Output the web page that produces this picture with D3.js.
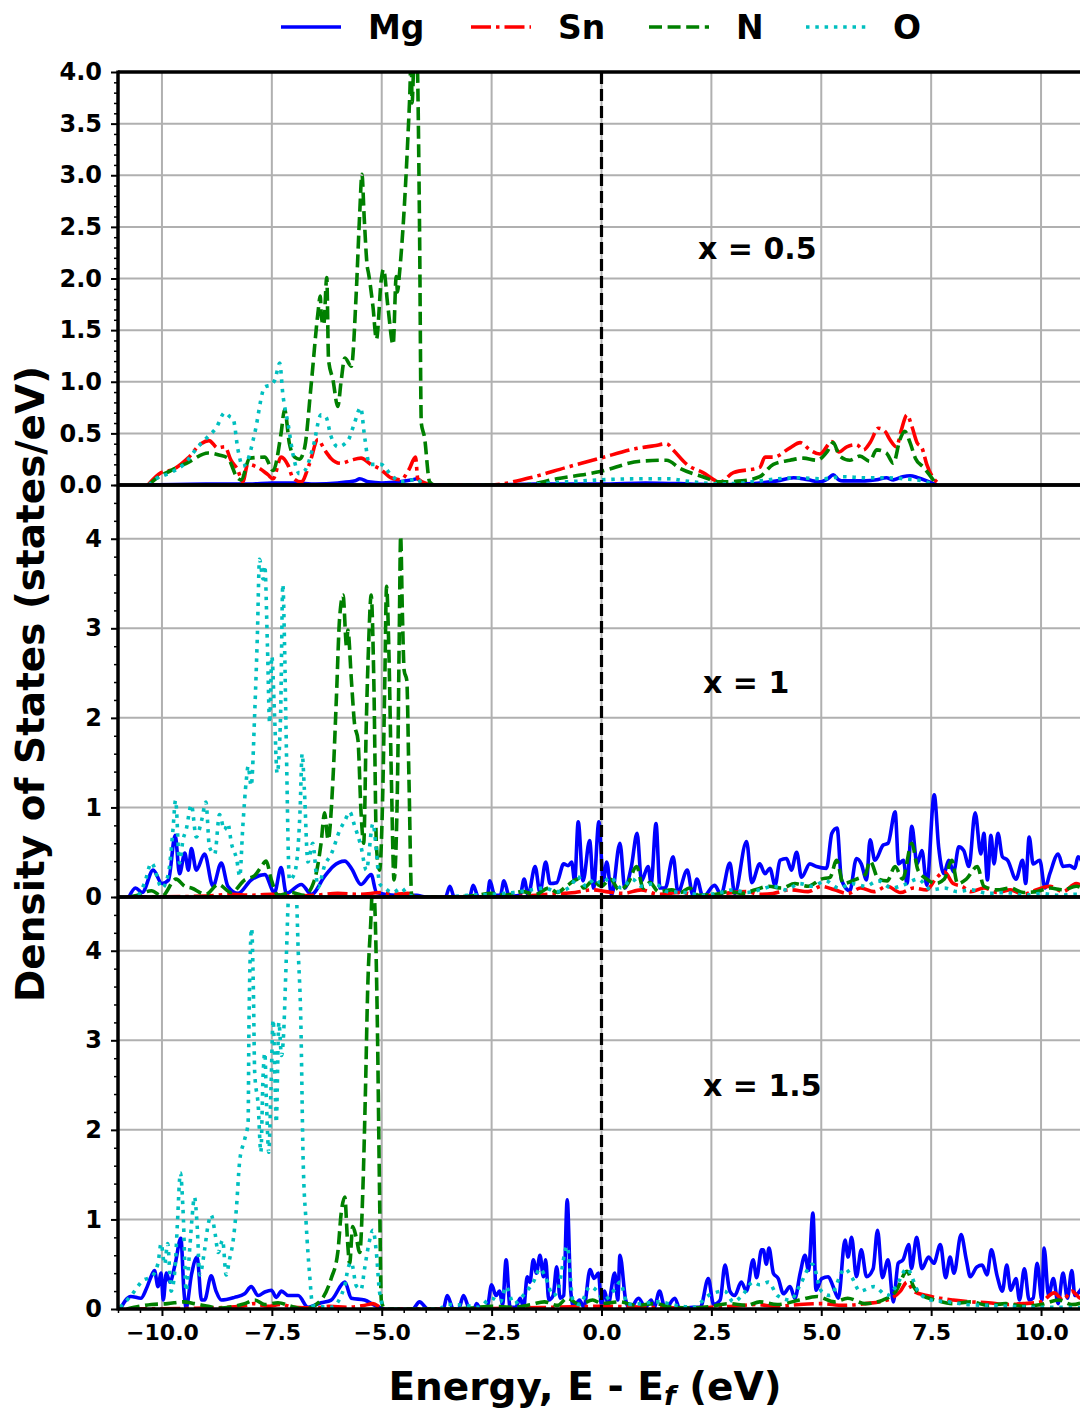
<!DOCTYPE html>
<html><head><meta charset="utf-8">
<script src="https://cdn.jsdelivr.net/npm/d3@7"></script>
<style>
body{margin:0;background:#fff}
svg{display:block}
text{font-family:"DejaVu Sans",sans-serif;font-weight:bold;fill:#000}
</style>
</head><body>
<svg id="chart" width="1080" height="1410"></svg>
<script>
// ---------------- data ----------------
const species = ["Mg", "Sn", "N", "O"];
const panelLabels = ["x = 0.5", "x = 1", "x = 1.5"];
const xTicks = [-10, -7.5, -5, -2.5, 0, 2.5, 5, 7.5, 10];
const yTicksTop = [0, 0.5, 1.0, 1.5, 2.0, 2.5, 3.0, 3.5, 4.0];
const yTicksLower = [0, 1, 2, 3, 4];

// panel x = 0.5  ([energy eV, DOS])
const mg05 = [[-10.3,0],[-9,0.01],[-8,0.01],[-7.5,0.02],[-7,0.02],[-6.5,0.01],[-6,0.02],[-5.6,0.04],[-5.5,0.06],[-5.3,0.03],[-5,0.02],[-4.6,0.03],[-4.3,0.05],[-4.2,0.06],[-4.05,0.01],[-3.9,0],[-2.5,0],[-1.5,0.01],[0,0.01],[1,0.02],[2,0.01],[2.7,0],[3.2,0.01],[3.6,0.02],[4.0,0.04],[4.37,0.07],[4.7,0.05],[4.97,0.03],[5.15,0.06],[5.27,0.1],[5.4,0.05],[5.5,0.04],[6.0,0.04],[6.26,0.05],[6.48,0.07],[6.64,0.05],[6.85,0.08],[7.02,0.09],[7.2,0.07],[7.4,0.04],[7.63,0]];
const sn05 = [[-10.32,0],[-10.02,0.12],[-9.75,0.15],[-9.41,0.26],[-9.11,0.4],[-8.93,0.43],[-8.73,0.36],[-8.57,0.37],[-8.43,0.24],[-8.28,0.15],[-8.16,0.03],[-8.05,0.2],[-7.82,0.17],[-7.59,0.1],[-7.47,0.06],[-7.29,0.27],[-7.13,0.19],[-7.02,0.07],[-6.83,0.03],[-6.64,0.21],[-6.45,0.44],[-6.3,0.34],[-6.16,0.26],[-5.93,0.21],[-5.7,0.24],[-5.47,0.26],[-5.25,0.2],[-5.02,0.15],[-4.79,0.07],[-4.57,0.05],[-4.38,0.15],[-4.23,0.27],[-4.18,0.06],[-3.95,0.01],[-3.8,0],[-2.54,0],[-1.63,0.07],[-0.8,0.17],[-0.03,0.26],[0.88,0.36],[1.2,0.38],[1.48,0.4],[1.63,0.34],[1.94,0.2],[2.31,0.12],[2.7,0.03],[3.0,0.12],[3.6,0.17],[3.72,0.27],[3.91,0.27],[4.29,0.36],[4.52,0.41],[4.74,0.34],[4.97,0.3],[5.24,0.42],[5.4,0.32],[5.58,0.37],[5.8,0.39],[5.96,0.34],[6.11,0.41],[6.3,0.55],[6.45,0.52],[6.56,0.44],[6.71,0.37],[6.82,0.53],[6.95,0.68],[7.06,0.57],[7.18,0.41],[7.29,0.36],[7.4,0.2],[7.7,0]];
const n05 = [[-10.3,0],[-10.17,0.05],[-9.8,0.14],[-9.4,0.22],[-8.95,0.31],[-8.7,0.29],[-8.5,0.26],[-8.3,0.08],[-8.2,0.05],[-8.0,0.26],[-7.66,0.27],[-7.47,0.14],[-7.29,0.5],[-7.21,0.73],[-7.1,0.4],[-6.98,0.27],[-6.87,0.25],[-6.75,0.37],[-6.61,0.95],[-6.45,1.67],[-6.4,1.83],[-6.37,1.62],[-6.32,1.55],[-6.25,2.01],[-6.21,1.21],[-6.11,1.02],[-6.0,0.76],[-5.92,1.02],[-5.84,1.23],[-5.69,1.15],[-5.58,1.86],[-5.5,2.64],[-5.45,3.01],[-5.4,2.6],[-5.33,2.12],[-5.3,2.05],[-5.2,1.73],[-5.12,1.41],[-5.01,1.99],[-4.96,2.09],[-4.86,1.73],[-4.74,1.36],[-4.67,2.02],[-4.64,1.87],[-4.6,2.03],[-4.48,2.74],[-4.4,3.41],[-4.36,3.8],[-4.33,4.2],[-4.31,3.7],[-4.25,4.3],[-4.2,4.2],[-4.14,2.5],[-4.1,0.6],[-4.03,0.47],[-3.91,0.03],[-3.8,0],[-1.8,0],[-1.02,0.06],[-0.03,0.13],[0.88,0.23],[1.48,0.24],[1.79,0.16],[2.3,0.08],[2.7,0.03],[3.2,0.04],[3.6,0.08],[3.91,0.2],[4.29,0.24],[4.59,0.26],[4.9,0.24],[5.13,0.32],[5.27,0.41],[5.42,0.28],[5.65,0.24],[5.88,0.28],[6.1,0.23],[6.26,0.34],[6.48,0.31],[6.64,0.21],[6.79,0.44],[6.9,0.52],[7.02,0.41],[7.14,0.26],[7.33,0.17],[7.63,0]];
const o05 = [[-10.3,0],[-10.17,0.05],[-9.8,0.12],[-9.5,0.2],[-9.18,0.37],[-8.95,0.47],[-8.77,0.55],[-8.57,0.7],[-8.45,0.66],[-8.38,0.64],[-8.27,0.34],[-8.16,0.18],[-8.05,0.24],[-7.89,0.5],[-7.66,0.95],[-7.51,0.97],[-7.43,1.02],[-7.32,1.18],[-7.25,0.88],[-7.13,0.59],[-7.02,0.3],[-6.87,0.11],[-6.75,0.14],[-6.56,0.37],[-6.38,0.68],[-6.27,0.66],[-6.16,0.48],[-6.0,0.37],[-5.77,0.43],[-5.62,0.6],[-5.48,0.75],[-5.39,0.47],[-5.28,0.2],[-5.02,0.2],[-4.79,0.1],[-4.57,0.03],[-4.4,0.04],[-4.18,0.06],[-4.07,0],[-2.5,0],[-1.5,0.01],[-0.8,0.03],[0,0.05],[0.8,0.06],[1.55,0.06],[1.9,0.04],[2.3,0.02],[2.7,0.01],[3.2,0.02],[3.6,0.04],[4.0,0.06],[4.5,0.07],[5.0,0.06],[5.5,0.08],[6.0,0.07],[6.5,0.07],[6.9,0.06],[7.3,0.04],[7.6,0]];

// panel x = 1
const mg10 = [[-10.75,0],[-10.6,0.1],[-10.45,0.05],[-10.2,0.3],[-10.0,0.15],[-9.85,0.19],[-9.7,0.69],[-9.6,0.26],[-9.48,0.49],[-9.4,0.3],[-9.33,0.54],[-9.22,0.3],[-9.03,0.48],[-8.84,0.12],[-8.65,0.38],[-8.5,0.12],[-8.27,0.04],[-7.97,0.19],[-7.66,0.25],[-7.44,0.05],[-7.29,0.33],[-7.17,0.04],[-6.83,0.14],[-6.6,0.03],[-6.3,0.23],[-6.11,0.34],[-5.84,0.4],[-5.69,0.32],[-5.47,0.14],[-5.24,0.25],[-5.12,0.05],[-4.7,0.02],[-4.2,0.02],[-4.0,0],[-3.55,0],[-3.45,0.12],[-3.35,0],[-3.0,0],[-2.92,0.13],[-2.8,0],[-2.6,0],[-2.54,0.18],[-2.43,0.02],[-2.3,0.02],[-2.22,0.18],[-2.1,0.01],[-1.85,0.02],[-1.76,0.2],[-1.67,0.02],[-1.51,0.34],[-1.4,0.05],[-1.27,0.39],[-1.17,0.15],[-1.02,0.16],[-0.86,0.37],[-0.76,0.35],[-0.68,0.39],[-0.61,0.18],[-0.53,0.84],[-0.42,0.18],[-0.27,0.63],[-0.18,0.1],[-0.06,0.84],[0.04,0.18],[0.12,0.39],[0.23,0.02],[0.42,0.6],[0.53,0.1],[0.68,0.34],[0.81,0.71],[0.91,0.18],[1.06,0.34],[1.13,0.15],[1.24,0.82],[1.33,0.1],[1.45,0.1],[1.63,0.45],[1.74,0.05],[1.95,0.3],[2.08,0.02],[2.17,0.2],[2.31,0],[2.57,0.13],[2.72,0.03],[2.92,0.38],[3.03,0.04],[3.3,0.62],[3.42,0.16],[3.6,0.37],[3.72,0.26],[3.83,0.32],[3.95,0.13],[4.06,0.41],[4.21,0.43],[4.32,0.3],[4.44,0.5],[4.55,0.22],[4.74,0.37],[4.89,0.34],[5.12,0.32],[5.24,0.71],[5.36,0.77],[5.46,0.19],[5.65,0.07],[5.8,0.43],[5.91,0.37],[6.03,0.19],[6.11,0.64],[6.22,0.41],[6.41,0.58],[6.52,0.6],[6.68,0.95],[6.76,0.37],[6.87,0.41],[6.95,0.15],[7.06,0.79],[7.18,0.37],[7.29,0.52],[7.4,0.13],[7.57,1.14],[7.67,0.56],[7.79,0.26],[7.9,0.41],[8.01,0.28],[8.13,0.56],[8.24,0.52],[8.36,0.34],[8.5,0.94],[8.63,0.48],[8.7,0.71],[8.78,0.19],[8.86,0.69],[8.93,0.37],[9.02,0.71],[9.12,0.45],[9.24,0.41],[9.43,0.2],[9.58,0.41],[9.65,0.15],[9.73,0.67],[9.82,0.37],[9.97,0.41],[10.09,0.1],[10.2,0.26],[10.39,0.48],[10.5,0.34],[10.65,0.35],[10.77,0.32],[10.84,0.45],[11,0.3]];
const sn10 = [[-10.8,0],[-9,0.01],[-8.4,0.03],[-8,0.02],[-7.5,0.03],[-7,0.01],[-6.5,0.02],[-6,0.04],[-5.5,0.03],[-5,0.05],[-4.7,0.03],[-4.4,0.04],[-4.2,0],[-2.5,0],[-1.8,0.01],[-1.2,0.03],[-0.6,0.05],[-0.2,0.08],[0.1,0.06],[0.5,0.04],[0.9,0.08],[1.3,0.03],[1.8,0.05],[2.3,0.01],[2.8,0.04],[3.3,0.06],[3.6,0.03],[3.9,0.04],[4.3,0.08],[4.7,0.06],[5.0,0.12],[5.3,0.08],[5.6,0.04],[5.9,0.1],[6.2,0.06],[6.5,0.12],[6.8,0.05],[7.1,0.1],[7.4,0.08],[7.6,0.2],[7.8,0.28],[8.0,0.15],[8.2,0.12],[8.4,0.06],[8.7,0.1],[9.0,0.05],[9.3,0.08],[9.6,0.03],[9.9,0.08],[10.2,0.12],[10.5,0.06],[10.8,0.15],[11,0.1]];
const n10 = [[-10.75,0],[-10.55,0.02],[-10.24,0.07],[-10.0,0.01],[-9.68,0.2],[-9.48,0.12],[-9.33,0.1],[-9.0,0.03],[-8.72,0.14],[-8.42,0.05],[-8.12,0.19],[-7.89,0.24],[-7.74,0.34],[-7.63,0.4],[-7.51,0.19],[-7.36,0.02],[-7.06,0.05],[-6.76,0.02],[-6.53,0.19],[-6.38,0.6],[-6.3,0.94],[-6.22,0.64],[-6.11,1.31],[-6.03,2.24],[-5.96,3.1],[-5.88,3.37],[-5.8,2.8],[-5.77,2.98],[-5.69,2.42],[-5.62,1.94],[-5.54,1.75],[-5.47,0.94],[-5.41,0.6],[-5.35,1.96],[-5.3,2.8],[-5.24,3.37],[-5.18,2.42],[-5.12,0.56],[-5.05,0.3],[-4.97,1.31],[-4.93,2.42],[-4.89,3.47],[-4.84,2.8],[-4.78,1.31],[-4.72,0.19],[-4.64,1.31],[-4.6,2.98],[-4.57,4.03],[-4.53,3.17],[-4.49,2.53],[-4.43,2.42],[-4.38,1.31],[-4.32,0.02],[-4.2,0],[-3.6,0],[-3.0,0.01],[-2.5,0.04],[-2.2,0.02],[-1.8,0.06],[-1.5,0.03],[-1.2,0.1],[-1.0,0.05],[-0.8,0.12],[-0.53,0.2],[-0.4,0.1],[-0.2,0.18],[0,0.12],[0.2,0.2],[0.4,0.08],[0.6,0.15],[0.8,0.34],[0.95,0.1],[1.1,0.16],[1.3,0.06],[1.6,0.08],[1.8,0.05],[2.0,0.1],[2.2,0.02],[2.6,0.03],[2.9,0.06],[3.2,0.04],[3.5,0.08],[3.8,0.12],[4.1,0.1],[4.4,0.15],[4.7,0.12],[5.0,0.2],[5.2,0.22],[5.35,0.41],[5.5,0.15],[5.8,0.2],[6.0,0.25],[6.11,0.4],[6.3,0.2],[6.5,0.18],[6.68,0.34],[6.85,0.2],[7.06,0.6],[7.2,0.3],[7.4,0.2],[7.6,0.15],[7.8,0.2],[7.97,0.41],[8.1,0.15],[8.3,0.2],[8.55,0.34],[8.7,0.12],[9.0,0.08],[9.3,0.1],[9.6,0.05],[9.9,0.06],[10.2,0.1],[10.5,0.08],[10.8,0.12],[11,0.08]];
const o10 = [[-10.75,0],[-10.55,0.02],[-10.4,0.15],[-10.24,0.38],[-10.0,0.1],[-9.85,0.27],[-9.75,0.75],[-9.69,1.08],[-9.6,0.38],[-9.52,0.64],[-9.45,0.75],[-9.33,1.03],[-9.22,0.67],[-9.1,0.85],[-9.0,1.06],[-8.92,0.56],[-8.8,0.48],[-8.69,0.92],[-8.58,0.75],[-8.5,0.82],[-8.42,0.6],[-8.3,0.42],[-8.23,0.23],[-8.16,0.79],[-8.08,1.31],[-8.04,1.46],[-7.97,1.24],[-7.89,2.05],[-7.83,2.91],[-7.78,3.77],[-7.7,3.55],[-7.66,3.7],[-7.6,2.8],[-7.55,1.94],[-7.5,2.69],[-7.44,2.05],[-7.38,1.38],[-7.3,2.05],[-7.25,3.49],[-7.21,2.8],[-7.17,1.68],[-7.1,0.19],[-6.98,0.27],[-6.86,0.94],[-6.81,1.6],[-6.76,1.2],[-6.68,0.39],[-6.57,0.6],[-6.45,0.11],[-6.3,0.35],[-6.14,0.49],[-5.95,0.75],[-5.84,0.85],[-5.73,0.95],[-5.62,0.8],[-5.47,0.56],[-5.35,0.3],[-5.2,0.82],[-5.12,0.5],[-5.05,0.15],[-4.93,0.1],[-4.75,0.05],[-4.55,0.1],[-4.4,0.02],[-4.0,0],[-3.6,0],[-3.0,0.02],[-2.5,0.03],[-2.0,0.05],[-1.6,0.08],[-1.3,0.1],[-1.0,0.06],[-0.7,0.12],[-0.55,0.23],[-0.35,0.12],[-0.15,0.2],[0,0.15],[0.2,0.22],[0.45,0.1],[0.7,0.2],[0.9,0.12],[1.2,0.15],[1.5,0.06],[1.9,0.05],[2.3,0.02],[2.7,0.05],[3.0,0.08],[3.3,0.05],[3.6,0.08],[3.9,0.12],[4.2,0.08],[4.5,0.15],[4.8,0.12],[5.1,0.18],[5.4,0.1],[5.7,0.15],[6.0,0.12],[6.3,0.18],[6.6,0.1],[6.9,0.14],[7.2,0.2],[7.5,0.08],[7.8,0.1],[8.1,0.06],[8.4,0.08],[8.8,0.04],[9.2,0.05],[9.6,0.02],[10,0.04],[10.4,0.02],[10.8,0.03],[11,0.02]];

// panel x = 1.5
const mg15 = [[-10.95,0],[-10.71,0.14],[-10.48,0.12],[-10.36,0.22],[-10.24,0.37],[-10.17,0.43],[-10.09,0.25],[-10.02,0.4],[-9.97,0.1],[-9.9,0.4],[-9.82,0.3],[-9.7,0.5],[-9.57,0.79],[-9.5,0.2],[-9.45,0.01],[-9.33,0.38],[-9.2,0.58],[-9.1,0.1],[-9.03,0.1],[-8.88,0.37],[-8.77,0.2],[-8.65,0.1],[-8.35,0.13],[-8.12,0.17],[-7.97,0.25],[-7.81,0.15],[-7.66,0.19],[-7.51,0.21],[-7.4,0.13],[-7.28,0.2],[-7.13,0.15],[-6.9,0.15],[-6.68,0.02],[-6.38,0.07],[-6.15,0.1],[-5.84,0.3],[-5.69,0.12],[-5.39,0.1],[-5.16,0.04],[-4.93,0],[-4.3,0],[-4.14,0.08],[-3.95,0],[-3.6,0],[-3.51,0.15],[-3.37,0],[-3.25,0],[-3.14,0.15],[-3.0,0],[-2.9,0],[-2.84,0.06],[-2.75,0],[-2.6,0.02],[-2.5,0.27],[-2.4,0.15],[-2.32,0.2],[-2.25,0.05],[-2.17,0.55],[-2.08,0.02],[-1.95,0.02],[-1.85,0.12],[-1.77,0.02],[-1.69,0.36],[-1.63,0.3],[-1.55,0.55],[-1.48,0.4],[-1.4,0.6],[-1.32,0.36],[-1.27,0.55],[-1.2,0.1],[-1.1,0.15],[-1.02,0.47],[-0.94,0.12],[-0.86,0.15],[-0.78,1.22],[-0.7,0.2],[-0.63,0.02],[-0.5,0.1],[-0.4,0.02],[-0.26,0.44],[-0.17,0.34],[-0.07,0.4],[0.0,0.04],[0.07,0.2],[0.15,0.05],[0.3,0.4],[0.37,0.1],[0.42,0.6],[0.55,0.1],[0.65,0],[0.84,0.12],[1.0,0.02],[1.13,0.1],[1.2,0.02],[1.32,0.2],[1.45,0],[1.67,0.12],[1.78,0],[2.08,0.02],[2.25,0.02],[2.43,0.34],[2.55,0.05],[2.7,0.1],[2.81,0.49],[2.92,0.2],[3.03,0.15],[3.18,0.3],[3.3,0.2],[3.45,0.55],[3.53,0.35],[3.64,0.66],[3.68,0.66],[3.75,0.5],[3.81,0.68],[3.91,0.4],[4.02,0.34],[4.14,0.17],[4.29,0.25],[4.4,0.12],[4.52,0.4],[4.63,0.6],[4.71,0.43],[4.81,1.07],[4.88,0.21],[5.01,0.34],[5.16,0.36],[5.27,0.25],[5.39,0.12],[5.54,0.77],[5.61,0.58],[5.69,0.8],[5.8,0.36],[5.91,0.66],[6.03,0.36],[6.18,0.45],[6.28,0.88],[6.39,0.35],[6.52,0.55],[6.64,0.08],[6.75,0.51],[6.86,0.55],[6.99,0.72],[7.05,0.45],[7.17,0.8],[7.29,0.45],[7.44,0.58],[7.56,0.51],[7.71,0.72],[7.83,0.35],[7.93,0.58],[8.02,0.4],[8.18,0.83],[8.3,0.55],[8.39,0.36],[8.54,0.47],[8.66,0.49],[8.77,0.38],[8.87,0.66],[9.0,0.37],[9.12,0.2],[9.22,0.49],[9.31,0.21],[9.43,0.34],[9.51,0.1],[9.62,0.45],[9.73,0.1],[9.82,0.12],[9.91,0.51],[10.02,0.1],[10.07,0.68],[10.17,0.15],[10.28,0.34],[10.39,0.06],[10.5,0.4],[10.6,0.12],[10.7,0.43],[10.77,0.15],[10.88,0.2],[11,0.3]];
const sn15 = [[-10.8,0],[-9,0.01],[-8.2,0.03],[-7.9,0.06],[-7.6,0.03],[-7.3,0.05],[-7,0.02],[-6.5,0.01],[-6.2,0.03],[-5.8,0.02],[-5.4,0.04],[-5.2,0.06],[-5.0,0.01],[-4.9,0],[-3.6,0],[-2,0.01],[-1,0.02],[0,0.03],[1,0.02],[2,0.01],[2.5,0.02],[3,0.03],[3.5,0.05],[4,0.03],[4.5,0.05],[5,0.06],[5.5,0.04],[6,0.06],[6.5,0.1],[6.8,0.2],[6.95,0.3],[7.1,0.2],[7.4,0.15],[7.7,0.12],[8.0,0.1],[8.4,0.08],[8.8,0.07],[9.2,0.05],[9.6,0.06],[10.0,0.08],[10.3,0.18],[10.5,0.1],[10.7,0.2],[10.9,0.12],[11,0.15]];
const n15 = [[-10.8,0],[-10.24,0.05],[-9.87,0.06],[-9.5,0.08],[-9.26,0.06],[-8.95,0.03],[-8.7,0.01],[-8.12,0.06],[-7.89,0.1],[-7.66,0.05],[-7.36,0.07],[-7.06,0.03],[-6.76,0],[-6.38,0.1],[-6.15,0.34],[-6.0,0.63],[-5.92,1.08],[-5.84,1.25],[-5.78,0.77],[-5.73,0.51],[-5.66,0.92],[-5.58,0.8],[-5.5,0.63],[-5.43,1.32],[-5.37,2.44],[-5.32,3.56],[-5.25,4.31],[-5.2,4.8],[-5.15,4.4],[-5.1,3.2],[-5.05,1.32],[-5.01,0.1],[-4.93,0],[-3.6,0],[-3.0,0.01],[-2.5,0.03],[-2.0,0.02],[-1.6,0.05],[-1.3,0.08],[-1.0,0.04],[-0.78,0.12],[-0.5,0.05],[-0.2,0.1],[0,0.06],[0.4,0.08],[0.8,0.04],[1.2,0.06],[1.6,0.02],[2.0,0.01],[2.5,0.03],[2.9,0.06],[3.3,0.04],[3.6,0.08],[4.0,0.05],[4.5,0.1],[4.9,0.14],[5.3,0.08],[5.6,0.12],[6.0,0.06],[6.4,0.1],[6.7,0.2],[6.95,0.42],[7.1,0.25],[7.3,0.15],[7.6,0.1],[8.0,0.06],[8.4,0.08],[8.8,0.04],[9.2,0.06],[9.6,0.03],[10.0,0.05],[10.4,0.1],[10.7,0.05],[11,0.08]];
const o15 = [[-10.95,0.02],[-10.7,0.15],[-10.43,0.32],[-10.24,0.36],[-10.09,0.51],[-10.02,0.73],[-9.94,0.5],[-9.87,0.73],[-9.79,0.2],[-9.7,0.47],[-9.65,0.94],[-9.58,1.52],[-9.52,1.1],[-9.45,0.2],[-9.37,0.66],[-9.32,0.99],[-9.26,1.25],[-9.2,0.94],[-9.14,0.38],[-9.03,0.66],[-8.95,0.94],[-8.88,1.05],[-8.79,0.84],[-8.72,0.63],[-8.62,0.77],[-8.54,0.38],[-8.46,0.56],[-8.39,0.73],[-8.31,1.1],[-8.23,1.66],[-8.12,1.89],[-8.04,2.08],[-8.02,3.2],[-7.96,4.25],[-7.92,3.57],[-7.89,2.64],[-7.81,2.27],[-7.75,1.75],[-7.7,2.6],[-7.66,2.86],[-7.62,2.27],[-7.57,1.75],[-7.52,2.45],[-7.47,3.23],[-7.43,2.6],[-7.4,2.08],[-7.34,3.2],[-7.28,2.83],[-7.24,3.0],[-7.17,3.93],[-7.12,4.6],[-7.02,4.8],[-6.95,4.7],[-6.9,4.0],[-6.84,3.2],[-6.79,1.71],[-6.72,0.96],[-6.64,0.38],[-6.57,0.04],[-6.15,0.02],[-5.84,0.26],[-5.77,0.45],[-5.69,0.52],[-5.58,0.26],[-5.47,0.22],[-5.39,0.45],[-5.3,0.71],[-5.2,0.88],[-5.12,0.62],[-5.05,0.19],[-4.93,0],[-3.7,0],[-3.5,0.05],[-3.1,0.04],[-2.8,0.02],[-2.5,0.12],[-2.3,0.08],[-2.17,0.25],[-2.0,0.06],[-1.7,0.2],[-1.55,0.3],[-1.4,0.45],[-1.27,0.35],[-1.1,0.15],[-1.0,0.2],[-0.78,0.7],[-0.65,0.1],[-0.5,0.05],[-0.26,0.25],[-0.1,0.2],[0.05,0.1],[0.3,0.22],[0.42,0.3],[0.6,0.05],[0.9,0.06],[1.3,0.08],[1.7,0.04],[2.1,0.02],[2.43,0.15],[2.8,0.2],[3.0,0.08],[3.2,0.15],[3.45,0.3],[3.6,0.27],[3.8,0.3],[4.0,0.15],[4.3,0.1],[4.5,0.25],[4.8,0.5],[5.0,0.2],[5.2,0.15],[5.54,0.45],[5.7,0.35],[5.88,0.2],[6.2,0.25],[6.5,0.15],[6.7,0.25],[6.95,0.45],[7.2,0.2],[7.5,0.1],[7.9,0.08],[8.3,0.05],[8.8,0.04],[9.3,0.03],[9.8,0.02],[10.3,0.02],[11,0.01]];

// ---------------- drawing ----------------
const svg = d3.select("#chart");
const W = 1080, H = 1410;
const left = 118, rightEdge = 1085;
const x = d3.scaleLinear().domain([-11, 11]).range([left, rightEdge]);

const styles = {
  Mg: {color: "#0000ff", dash: null},
  Sn: {color: "#ff0000", dash: "20,5,3.5,5"},
  N:  {color: "#008000", dash: "13,5.6"},
  O:  {color: "#00bfbf", dash: "3.5,5.8"}
};
const LW = 3.6;

const panels = [
  {top: 72, bottom: 485, ymax: 4.0, ticks: yTicksTop, minorStep: 0.1, fmt: d3.format(".1f"),
   data: {Mg: mg05, Sn: sn05, N: n05, O: o05}, label: panelLabels[0], labelX: 698, labelY: 248},
  {top: 485, bottom: 897, ymax: 4.6, ticks: yTicksLower, minorStep: 0.2, fmt: d3.format("d"),
   data: {Mg: mg10, Sn: sn10, N: n10, O: o10}, label: panelLabels[1], labelX: 703, labelY: 682},
  {top: 897, bottom: 1309, ymax: 4.6, ticks: yTicksLower, minorStep: 0.2, fmt: d3.format("d"),
   data: {Mg: mg15, Sn: sn15, N: n15, O: o15}, label: panelLabels[2], labelX: 703, labelY: 1085}
];

const gridG = svg.append("g");
const dataG = svg.append("g");
const frameG = svg.append("g");

panels.forEach((p, i) => {
  const y = d3.scaleLinear().domain([0, p.ymax]).range([p.bottom, p.top]);
  const cid = "clip" + i;
  svg.append("clipPath").attr("id", cid).append("rect")
    .attr("x", left).attr("y", p.top).attr("width", W - left).attr("height", p.bottom - p.top);

  // grid
  const g = gridG.append("g");
  g.selectAll("line.v").data(xTicks).join("line")
    .attr("x1", d => x(d)).attr("x2", d => x(d))
    .attr("y1", p.top).attr("y2", p.bottom)
    .attr("stroke", "#b0b0b0").attr("stroke-width", 2);
  g.selectAll("line.h").data(p.ticks).join("line")
    .attr("x1", left).attr("x2", W)
    .attr("y1", d => y(d)).attr("y2", d => y(d))
    .attr("stroke", "#b0b0b0").attr("stroke-width", 2);

  // data lines
  const line = d3.line().x(d => x(d[0])).y(d => y(d[1])).curve(d3.curveMonotoneX);
  const dg = dataG.append("g").attr("clip-path", `url(#${cid})`);
  species.forEach(s => {
    dg.append("path").datum(p.data[s])
      .attr("d", line)
      .attr("fill", "none")
      .attr("stroke", styles[s].color)
      .attr("stroke-width", LW)
      .attr("stroke-linejoin", "round")
      .attr("stroke-dasharray", styles[s].dash);
  });
  // Fermi level
  dg.append("line")
    .attr("x1", x(0)).attr("x2", x(0)).attr("y1", p.top).attr("y2", p.bottom)
    .attr("stroke", "#000").attr("stroke-width", 3.2).attr("stroke-dasharray", "12,5");

  // y axis major
  const ax = frameG.append("g").attr("transform", `translate(${left},0)`)
    .call(d3.axisLeft(y).tickValues(p.ticks).tickSize(7).tickPadding(9).tickFormat(p.fmt));
  ax.select(".domain").remove();
  ax.selectAll(".tick line").attr("stroke-width", 2);
  ax.selectAll(".tick text").style("font-size", "24px").style("font-family", "DejaVu Sans").style("font-weight", "bold");
  // y axis minor
  const minor = d3.range(0, p.ymax + 1e-9, p.minorStep).filter(v => !p.ticks.some(t => Math.abs(t - v) < 1e-6));
  const axm = frameG.append("g").attr("transform", `translate(${left},0)`)
    .call(d3.axisLeft(y).tickValues(minor).tickSize(4).tickFormat(""));
  axm.select(".domain").remove();
  axm.selectAll(".tick line").attr("stroke-width", 1.5);

  // panel label
  frameG.append("text").attr("x", p.labelX).attr("y", p.labelY).attr("dy", "0.36em")
    .style("font-size", "30px").text(p.label);

  // spines (top & bottom of each panel)
  frameG.append("line").attr("x1", left).attr("x2", W).attr("y1", p.top).attr("y2", p.top)
    .attr("stroke", "#000").attr("stroke-width", 3.5);
  frameG.append("line").attr("x1", left).attr("x2", W).attr("y1", p.bottom).attr("y2", p.bottom)
    .attr("stroke", "#000").attr("stroke-width", 3.5);
});

// left spine
frameG.append("line").attr("x1", left).attr("x2", left).attr("y1", 70.5).attr("y2", 1310.5)
  .attr("stroke", "#000").attr("stroke-width", 3.5);

// x axis
const xa = frameG.append("g").attr("transform", `translate(0,1309)`)
  .call(d3.axisBottom(x).tickValues(xTicks).tickSize(7).tickPadding(8).tickFormat(d3.format(".1f")));
xa.select(".domain").remove();
xa.selectAll(".tick line").attr("stroke-width", 2);
xa.selectAll(".tick text").style("font-size", "22px").style("font-family", "DejaVu Sans").style("font-weight", "bold");
const xMinor = d3.range(-11, 11.01, 0.5).filter(v => !xTicks.includes(v));
const xam = frameG.append("g").attr("transform", `translate(0,1309)`)
  .call(d3.axisBottom(x).tickValues(xMinor).tickSize(4).tickFormat(""));
xam.select(".domain").remove();
xam.selectAll(".tick line").attr("stroke-width", 1.5);

// axis labels
const xl = svg.append("text").attr("x", 585).attr("y", 1400).attr("text-anchor", "middle")
  .style("font-size", "39px");
xl.append("tspan").text("Energy, E - E");
xl.append("tspan").attr("dy", 5).style("font-size", "27px").style("font-style", "italic").text("f");
xl.append("tspan").attr("dy", -5).text(" (eV)");

svg.append("text").attr("transform", "translate(44,684) rotate(-90)")
  .attr("text-anchor", "middle").style("font-size", "39px")
  .text("Density of States (states/eV)");

// legend
const legLineX = [281, 471, 649, 806];
const leg = svg.append("g");
species.forEach((s, i) => {
  const lx = legLineX[i];
  leg.append("line").attr("x1", lx).attr("x2", lx + 60).attr("y1", 27).attr("y2", 27)
    .attr("stroke", styles[s].color).attr("stroke-width", LW)
    .attr("stroke-dasharray", styles[s].dash);
  leg.append("text").attr("x", lx + 87).attr("y", 27).attr("dy", "0.36em")
    .style("font-size", "33px").text(s);
});
</script>
</body></html>
